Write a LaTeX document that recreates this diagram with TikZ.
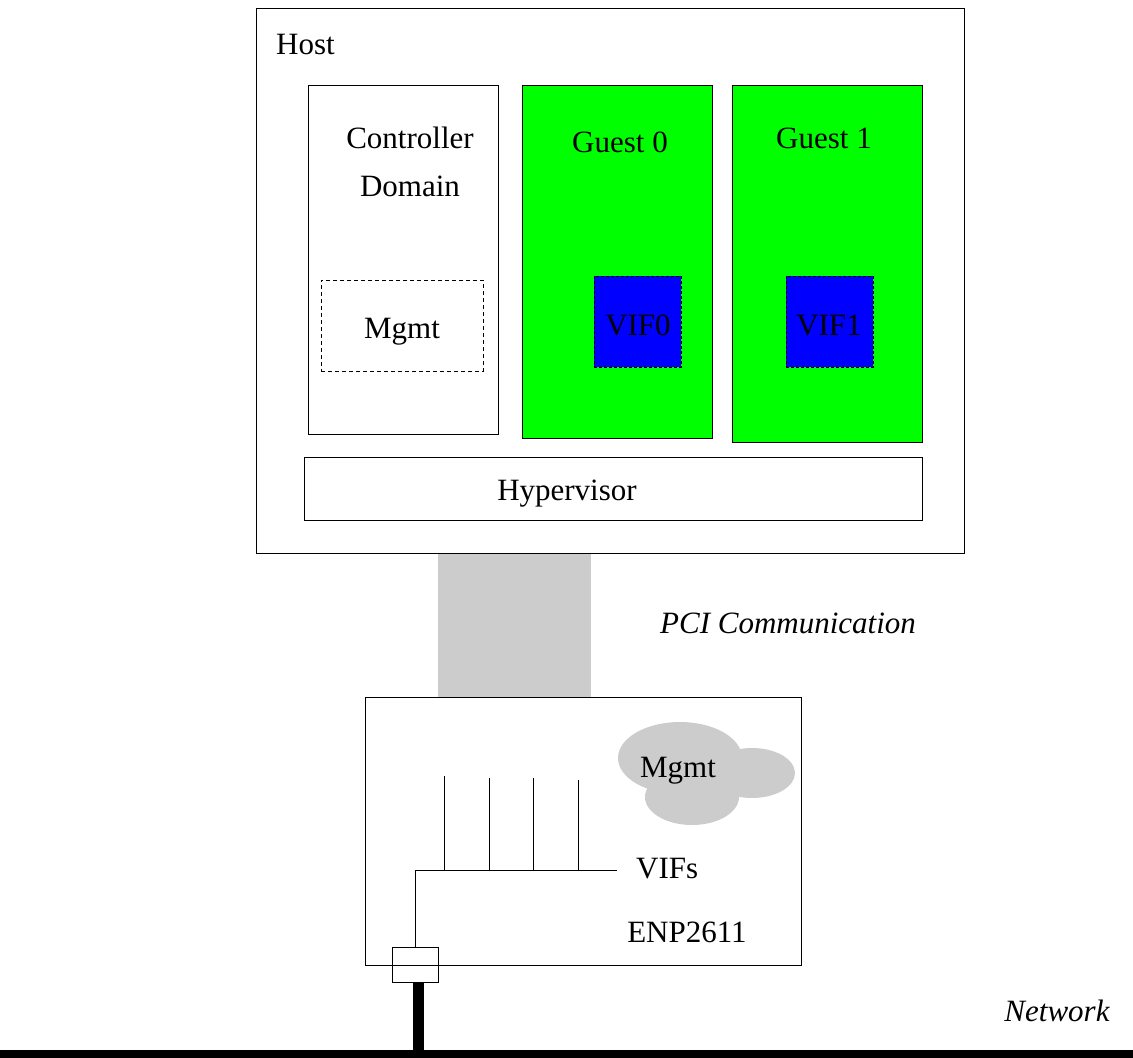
\documentclass[tikz,border=0pt]{standalone}
\usepackage{fontspec}
\setmainfont{Liberation Serif}
\begin{document}
\begin{tikzpicture}[x=1pt,y=-1pt,
  box/.style={draw=black, line width=0.9pt, inner sep=0pt, outer sep=0pt, anchor=north west},
  lbl/.style={font=\fontsize{31}{37}\selectfont, inner sep=0pt, anchor=base},
  ilbl/.style={lbl, font=\fontsize{31}{37}\selectfont\itshape},
  wire/.style={draw=black, line width=0.9pt},
  cloudfill/.style={fill=gray!40, draw=none}]
\useasboundingbox (0,0) rectangle (1133,1058);

% PCI bar
\node[fill=gray!40, inner sep=0pt, anchor=north west, minimum width=153pt, minimum height=144pt] (pci) at (438,553) {};

% Host
\node[box, minimum width=708pt, minimum height=545pt] (host) at (256,8) {};
\node[lbl, anchor=base west] (hostlbl) at (276,54) {Host};

% Controller domain
\node[box, minimum width=190pt, minimum height=349pt] (ctrl) at (308,85) {};
\node[lbl] (ctrl1) at (410,148) {Controller};
\node[lbl] (ctrl2) at (410,196) {Domain};
\node[box, dash pattern=on 4pt off 3pt, minimum width=162pt, minimum height=91pt] (mgmtbox) at (321,280) {};
\node[lbl] (mgmtlbl) at (402,338) {Mgmt};

% Guests
\node[box, fill=green, minimum width=190pt, minimum height=353pt] (g0) at (522,85) {};
\node[lbl] (g0lbl) at (620,152) {Guest 0};
\node[box, fill=green, minimum width=190pt, minimum height=357pt] (g1) at (732,85) {};
\node[lbl] (g1lbl) at (824,148) {Guest 1};

\node[box, fill=blue, dash pattern=on 3pt off 2pt, minimum width=87pt, minimum height=91pt] (vif0) at (594,276) {};
\node[lbl] (vif0lbl) at (638,335) {VIF0};
\node[box, fill=blue, dash pattern=on 3pt off 2pt, minimum width=87pt, minimum height=91pt] (vif1) at (786,276) {};
\node[lbl] (vif1lbl) at (829,335) {VIF1};

% Hypervisor
\node[box, minimum width=618pt, minimum height=63pt] (hyp) at (304,457) {};
\node[lbl] (hyplbl) at (567,500) {Hypervisor};

\node[ilbl] (pcilbl) at (788,633) {PCI Communication};

% ENP2611
\node[box, minimum width=436pt, minimum height=268pt] (enp) at (365,697) {};
\node[lbl] (enplbl) at (687,942) {ENP2611};

% cloud
\fill[cloudfill] (680,758) ellipse [x radius=62, y radius=36];
\fill[cloudfill] (752,773) ellipse [x radius=43, y radius=25];
\fill[cloudfill] (692,797) ellipse [x radius=47, y radius=28];
\node[lbl] (cloudlbl) at (678,777) {Mgmt};

% VIF lines
\coordinate (busL) at (415,870);
\coordinate (busR) at (617,870);
\coordinate (t1) at (444,776);
\coordinate (t2) at (489,778);
\coordinate (t3) at (533,778);
\coordinate (t4) at (578,780);
\draw[wire] (busR) -- (busL);
\foreach \t in {t1,t2,t3,t4} \draw[wire] (\t) -- (\t |- busL);
\node[lbl, anchor=base west] (vifslbl) at (636,878) {VIFs};

% port
\node[box, minimum width=46pt, minimum height=35pt, fill=white] (port) at (392,947) {};
\draw[wire] (busL) -- (port.north);
\draw[wire] (enp.south west) -- (enp.south east);

% network
\coordinate (netL) at (0,1054);
\coordinate (netR) at (1133,1054);
\draw[line width=11pt] ([xshift=3pt]port.south) -- ([xshift=3pt]port.south |- netL);
\draw[line width=8pt] (netL) -- (netR);
\node[ilbl] (netlbl) at (1057,1021) {Network};
\end{tikzpicture}
\end{document}
